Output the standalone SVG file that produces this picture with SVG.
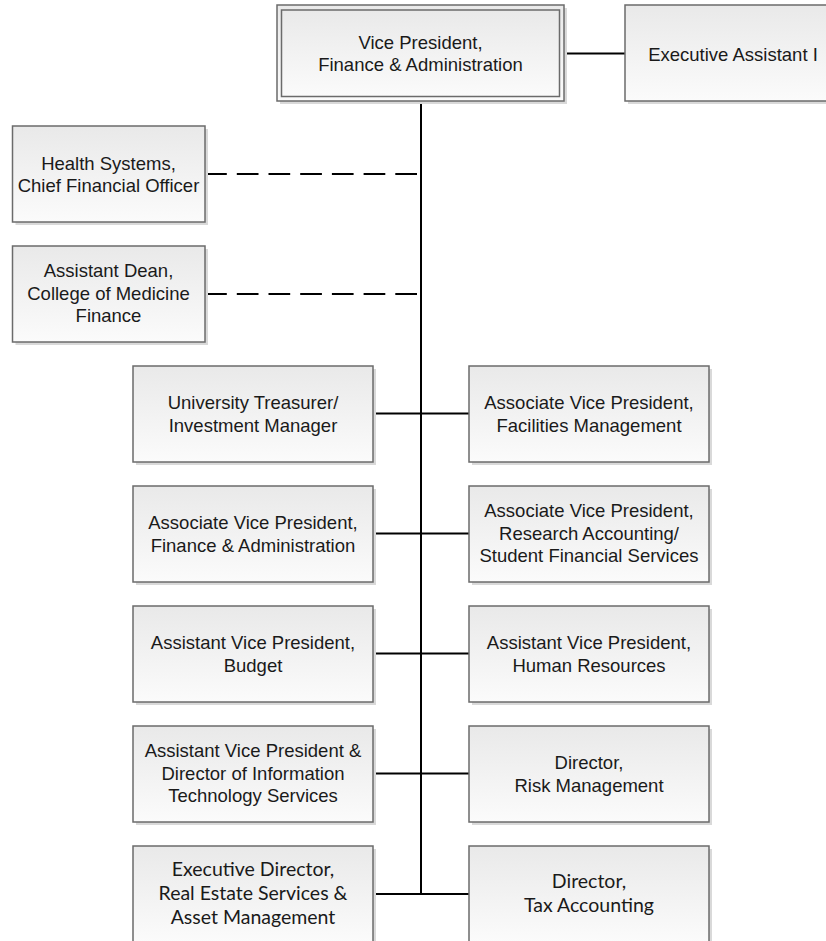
<svg xmlns="http://www.w3.org/2000/svg" width="826" height="941" viewBox="0 0 826 941">
<defs>
<linearGradient id="g" x1="0" y1="0" x2="0" y2="1">
<stop offset="0" stop-color="#e9e9e9"/>
<stop offset="1" stop-color="#fbfbfb"/>
</linearGradient>
<style>
.sh{fill:#d9d9d9;stroke:none}
.bx{fill:url(#g);stroke:#6b6b6b;stroke-width:1.5}
.t{font-family:"Liberation Sans",Arial,sans-serif;font-size:18.5px;fill:#1a1a1a;text-anchor:middle}
.c{font-family:Lato,"Open Sans",sans-serif;font-size:19.5px;fill:#1a1a1a;text-anchor:middle}
.ln{stroke:#000;stroke-width:2;fill:none}
.ds{stroke:#000;stroke-width:2;fill:none;stroke-dasharray:21.7 10}
</style>
</defs>
<rect width="826" height="941" fill="#fff"/>
<g id="connectors">
<line class="ln" x1="421" y1="101" x2="421" y2="894.5"/>
<line class="ln" x1="564" y1="53.5" x2="625" y2="53.5"/>
<line class="ds" x1="417" y1="174" x2="205" y2="174"/>
<line class="ds" x1="417" y1="294" x2="205" y2="294"/>
<line class="ln" x1="373" y1="413.5" x2="469" y2="413.5"/>
<line class="ln" x1="373" y1="533.5" x2="469" y2="533.5"/>
<line class="ln" x1="373" y1="653.5" x2="469" y2="653.5"/>
<line class="ln" x1="373" y1="773.5" x2="469" y2="773.5"/>
<line class="ln" x1="373" y1="894" x2="469" y2="894"/>
</g>
<g id="vp">
<rect class="sh" x="280" y="8" width="287" height="96"/>
<rect class="bx" x="277" y="5" width="287" height="96"/>
<rect class="bx" x="281.5" y="10" width="278" height="86.5"/>
<text class="t" x="420.5" y="48.5">Vice President,</text>
<text class="t" x="420.5" y="71">Finance &amp; Administration</text>
</g>
<g id="exec-assistant">
<rect class="sh" x="628" y="8" width="240" height="96"/>
<rect class="bx" x="625" y="5" width="240" height="96"/>
<text class="t" x="733" y="60.5">Executive Assistant I</text>
</g>
<g id="health-cfo">
<rect class="sh" x="15.5" y="129" width="192.5" height="96"/>
<rect class="bx" x="12.5" y="126" width="192.5" height="96"/>
<text class="t" x="108.5" y="169.5">Health Systems,</text>
<text class="t" x="108.5" y="192">Chief Financial Officer</text>
</g>
<g id="asst-dean">
<rect class="sh" x="15.5" y="249" width="192.5" height="96"/>
<rect class="bx" x="12.5" y="246" width="192.5" height="96"/>
<text class="t" x="108.5" y="277">Assistant Dean,</text>
<text class="t" x="108.5" y="299.5">College of Medicine</text>
<text class="t" x="108.5" y="322">Finance</text>
</g>
<g id="treasurer">
<rect class="sh" x="136" y="369" width="240" height="96"/>
<rect class="bx" x="133" y="366" width="240" height="96"/>
<text class="t" x="253" y="409">University Treasurer/</text>
<text class="t" x="253" y="431.5">Investment Manager</text>
</g>
<g id="avp-facilities">
<rect class="sh" x="472" y="369" width="240" height="96"/>
<rect class="bx" x="469" y="366" width="240" height="96"/>
<text class="t" x="589" y="409">Associate Vice President,</text>
<text class="t" x="589" y="431.5">Facilities Management</text>
</g>
<g id="avp-finance">
<rect class="sh" x="136" y="489" width="240" height="96"/>
<rect class="bx" x="133" y="486" width="240" height="96"/>
<text class="t" x="253" y="529">Associate Vice President,</text>
<text class="t" x="253" y="551.5">Finance &amp; Administration</text>
</g>
<g id="avp-research">
<rect class="sh" x="472" y="489" width="240" height="96"/>
<rect class="bx" x="469" y="486" width="240" height="96"/>
<text class="t" x="589" y="517">Associate Vice President,</text>
<text class="t" x="589" y="539.5">Research Accounting/</text>
<text class="t" x="589" y="562">Student Financial Services</text>
</g>
<g id="avp-budget">
<rect class="sh" x="136" y="609" width="240" height="96"/>
<rect class="bx" x="133" y="606" width="240" height="96"/>
<text class="t" x="253" y="649">Assistant Vice President,</text>
<text class="t" x="253" y="671.5">Budget</text>
</g>
<g id="avp-hr">
<rect class="sh" x="472" y="609" width="240" height="96"/>
<rect class="bx" x="469" y="606" width="240" height="96"/>
<text class="t" x="589" y="649">Assistant Vice President,</text>
<text class="t" x="589" y="671.5">Human Resources</text>
</g>
<g id="avp-it">
<rect class="sh" x="136" y="729" width="240" height="96"/>
<rect class="bx" x="133" y="726" width="240" height="96"/>
<text class="t" x="253" y="757">Assistant Vice President &amp;</text>
<text class="t" x="253" y="779.5">Director of Information</text>
<text class="t" x="253" y="802">Technology Services</text>
</g>
<g id="dir-risk">
<rect class="sh" x="472" y="729" width="240" height="96"/>
<rect class="bx" x="469" y="726" width="240" height="96"/>
<text class="t" x="589" y="769">Director,</text>
<text class="t" x="589" y="791.5">Risk Management</text>
</g>
<g id="exec-dir-real-estate">
<rect class="sh" x="136" y="849" width="240" height="96"/>
<rect class="bx" x="133" y="846" width="240" height="96"/>
<text class="c" x="253" y="876">Executive Director,</text>
<text class="c" x="253" y="900">Real Estate Services &amp;</text>
<text class="c" x="253" y="924">Asset Management</text>
</g>
<g id="dir-tax">
<rect class="sh" x="472" y="849" width="240" height="96"/>
<rect class="bx" x="469" y="846" width="240" height="96"/>
<text class="c" x="589" y="888">Director,</text>
<text class="c" x="589" y="912">Tax Accounting</text>
</g>
</svg>
